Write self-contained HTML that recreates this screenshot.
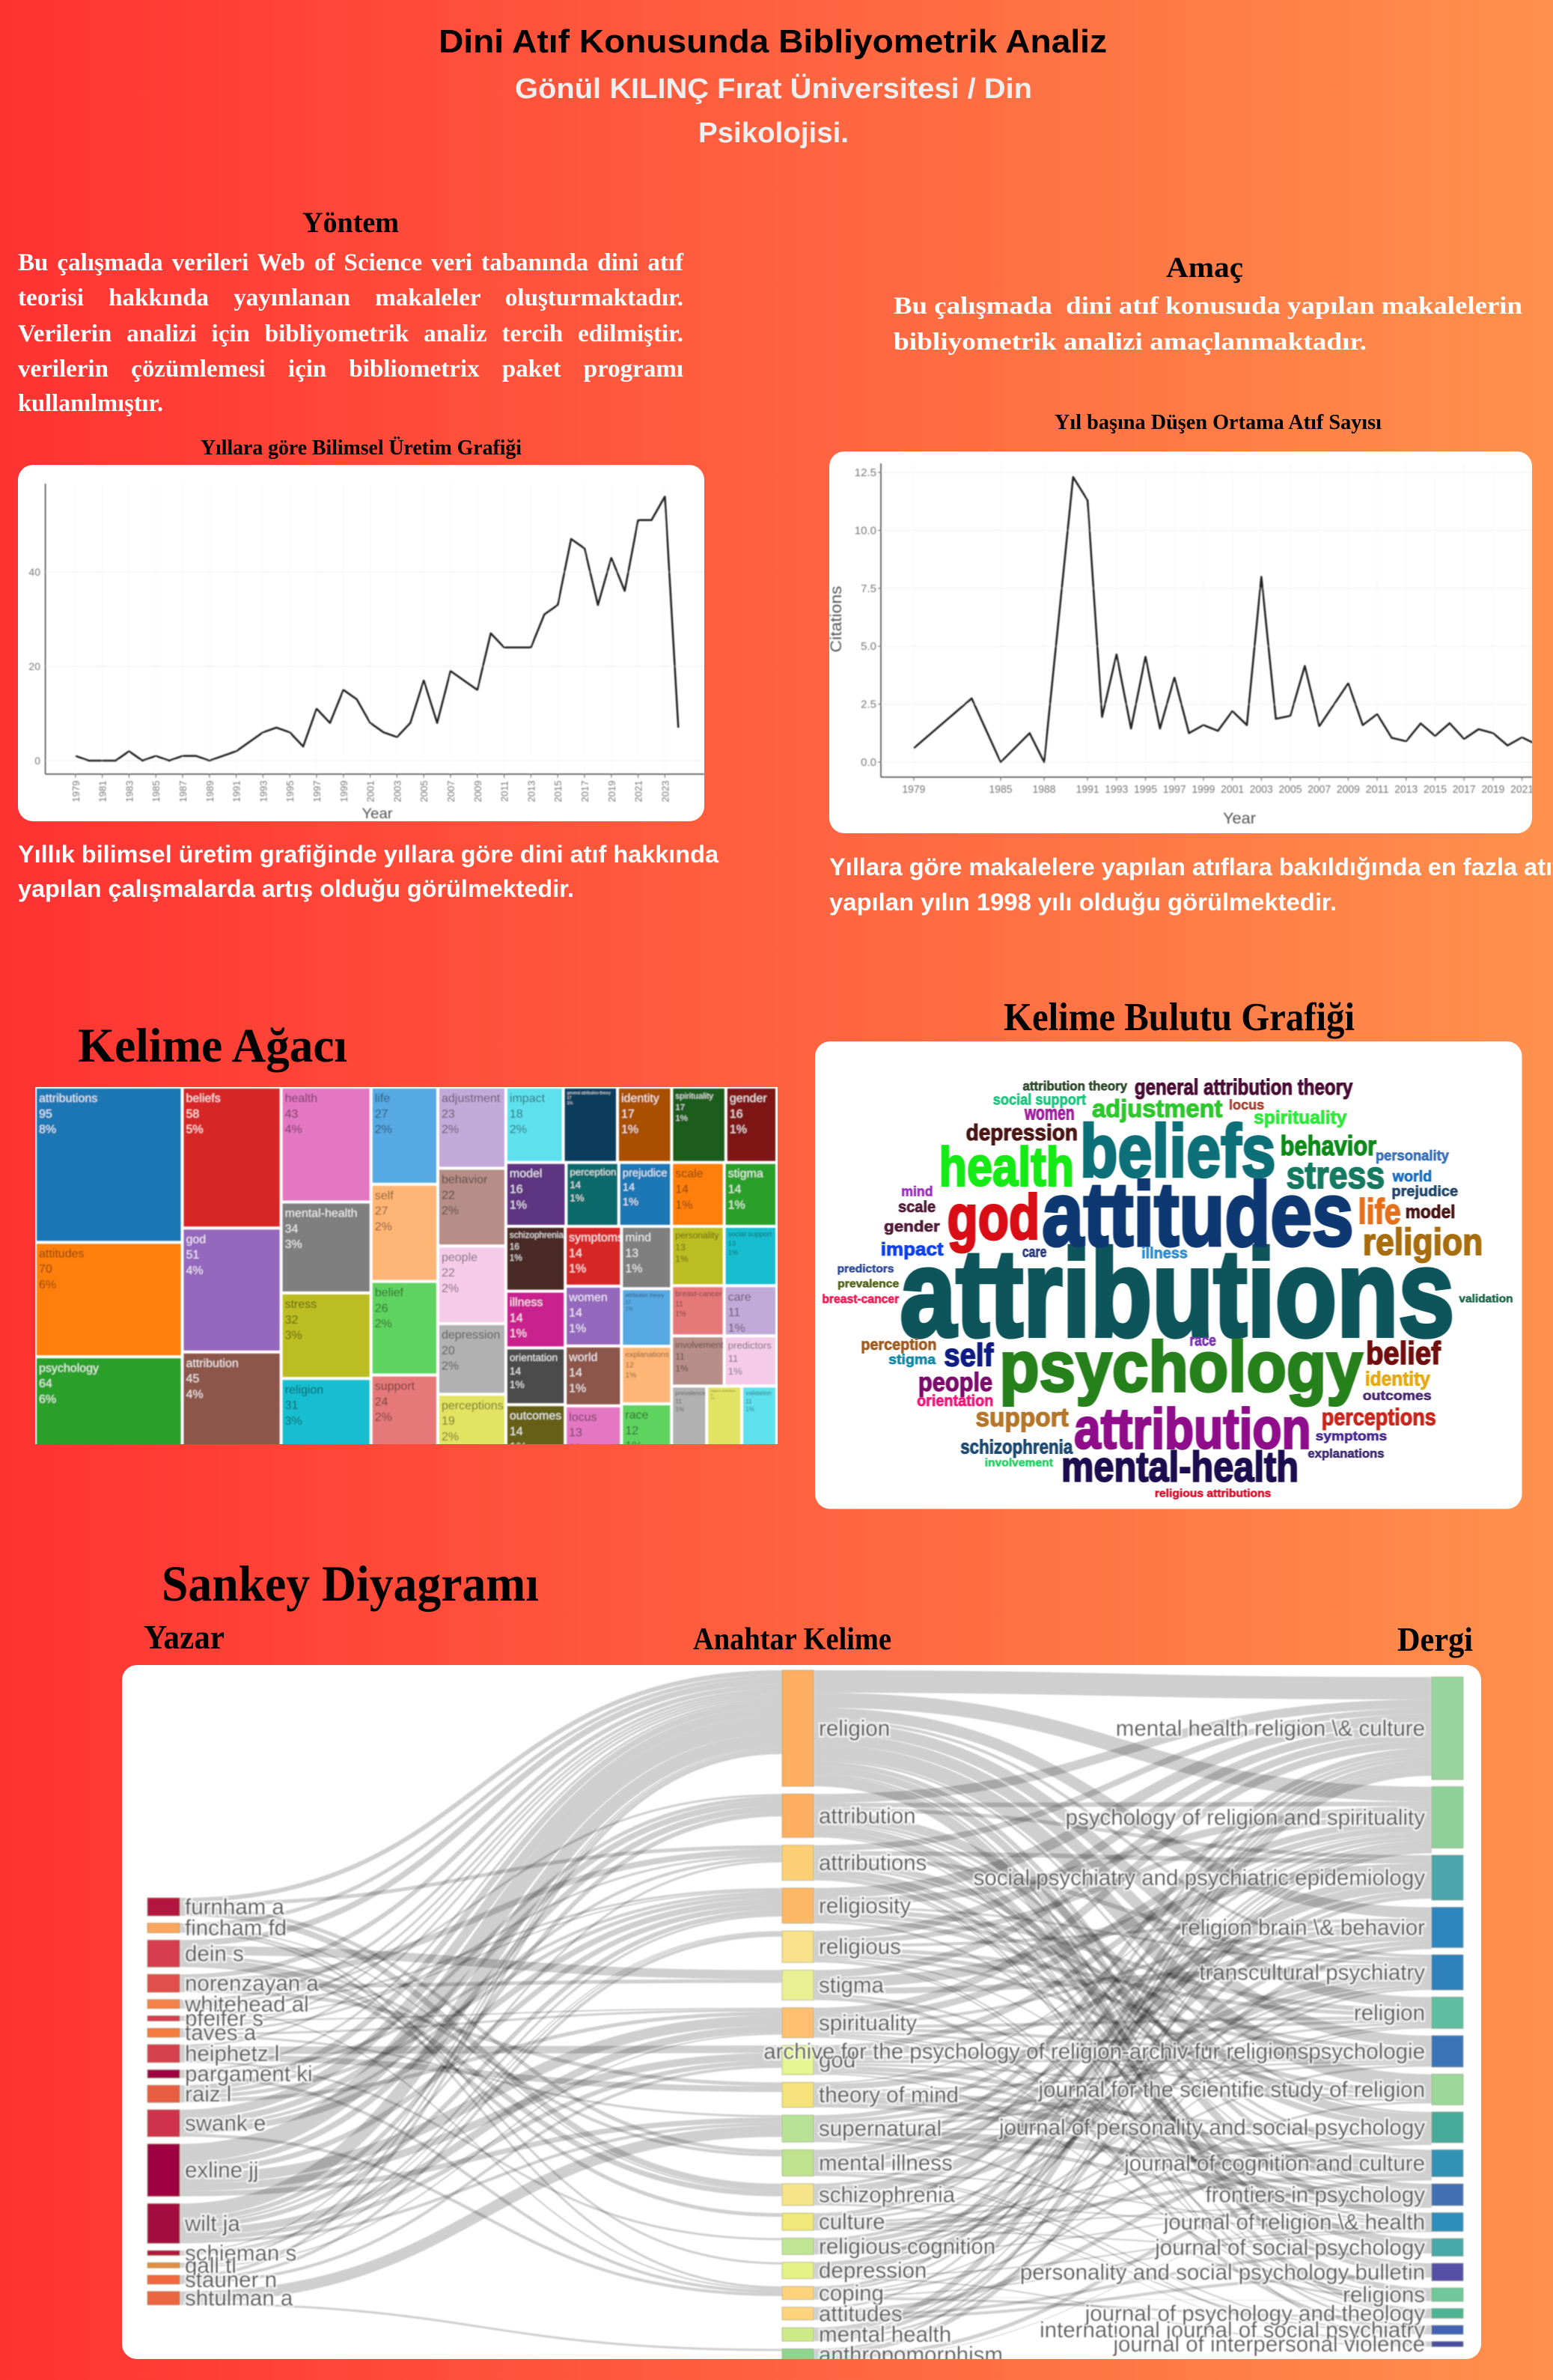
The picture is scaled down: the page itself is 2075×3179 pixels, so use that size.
<!DOCTYPE html>
<html lang="tr">
<head>
<meta charset="utf-8">
<title>Dini Atıf Konusunda Bibliyometrik Analiz</title>
<style>
html,body{margin:0;padding:0;background:#ff623f;}
#page{position:relative;width:2075px;height:3179px;overflow:hidden;background:linear-gradient(90deg,#ff3232,#ff914d);}
#stage{position:absolute;left:0;top:0;display:block;}
.sans{font-family:"Liberation Sans",sans-serif;}
.serif{font-family:"Liberation Serif",serif;}
.b{font-weight:bold;}
.just{position:absolute;left:24px;width:889px;font:bold 33px/47px "Liberation Serif",serif;color:#fff;text-align:justify;text-align-last:justify;white-space:nowrap;}
.w{font-family:"Liberation Sans",sans-serif;font-weight:bold;}
</style>
</head>
<body>
<div id="page">
<svg id="stage" xmlns="http://www.w3.org/2000/svg" width="2075" height="3179" viewBox="0 0 2075 3179">
<defs>
<filter id="soft" x="-2%" y="-2%" width="104%" height="104%"><feGaussianBlur stdDeviation="0.7"/></filter>
<clipPath id="leftClip"><rect x="24" y="621" width="917" height="476" rx="20"/></clipPath>
<clipPath id="rightClip"><rect x="1108" y="603" width="939" height="510" rx="20"/></clipPath>
<clipPath id="treeClip"><rect x="47" y="1452" width="992" height="477"/></clipPath>
<clipPath id="sankeyClip"><rect x="163" y="2224" width="1816" height="927" rx="20"/></clipPath>
</defs>

<text class="sans b" x="586" y="70" font-size="44" textLength="893" fill="#000">Dini Atıf Konusunda Bibliyometrik Analiz</text>
<text class="sans b" x="688" y="131" font-size="38" textLength="691" fill="#f0eeee">Gönül KILINÇ Fırat Üniversitesi / Din</text>
<text class="sans b" x="933" y="190" font-size="38" textLength="201" fill="#f0eeee">Psikolojisi.</text>

<text class="serif b" x="404" y="310" font-size="39" textLength="129" fill="#000">Yöntem</text>
<text class="serif b" x="24" y="549" font-size="33" textLength="194" fill="#fff">kullanılmıştır.</text>

<text class="serif b" x="1558" y="370" font-size="39" textLength="103" fill="#000">Amaç</text>
<text class="serif b" x="1194" y="419" font-size="33" textLength="840" fill="#fff" xml:space="preserve">Bu çalışmada  dini atıf konusuda yapılan makalelerin</text>
<text class="serif b" x="1194" y="467" font-size="33" textLength="632" fill="#fff">bibliyometrik analizi amaçlanmaktadır.</text>

<text class="serif b" x="268" y="607" font-size="28" textLength="429" fill="#000">Yıllara göre Bilimsel Üretim Grafiği</text>
<text class="serif b" x="1409" y="573" font-size="28" textLength="437" fill="#000">Yıl başına Düşen Ortama Atıf Sayısı</text>

<rect x="24" y="621" width="917" height="476" rx="20" fill="#fff"/>
<g id="leftChart" clip-path="url(#leftClip)"></g>
<rect x="1108" y="603" width="939" height="510" rx="20" fill="#fff"/>
<g id="rightChart" clip-path="url(#rightClip)"></g>

<text class="sans b" x="24" y="1152" font-size="32" textLength="936" fill="#fff">Yıllık bilimsel üretim grafiğinde yıllara göre dini atıf hakkında</text>
<text class="sans b" x="24" y="1198" font-size="32" textLength="743" fill="#fff">yapılan çalışmalarda artış olduğu görülmektedir.</text>
<text class="sans b" x="1108" y="1169" font-size="32" textLength="977" fill="#fff">Yıllara göre makalelere yapılan atıflara bakıldığında en fazla atıf</text>
<text class="sans b" x="1108" y="1216" font-size="32" textLength="678" fill="#fff">yapılan yılın 1998 yılı olduğu görülmektedir.</text>

<text class="serif b" x="104" y="1418" font-size="65" textLength="360" fill="#000">Kelime Ağacı</text>
<rect x="47" y="1452" width="992" height="477" fill="#fff"/>
<g id="treemap" clip-path="url(#treeClip)"></g>

<text class="serif b" x="1341" y="1376" font-size="53" textLength="469" fill="#000">Kelime Bulutu Grafiği</text>
<rect x="1089" y="1391" width="944.5" height="624.5" rx="20" fill="#fff"/>
<svg x="1080" y="1320" width="960" height="700" viewBox="0 0 1568 1568" preserveAspectRatio="none" filter="url(#soft)">
<text class="w" x="200" y="1040" font-size="370" textLength="1210" fill="#0a555a">attributions</text>
<text class="w" x="510" y="770" font-size="271" textLength="680" fill="#0b3872">attitudes</text>
<text class="w" x="593" y="563" font-size="223" textLength="427" fill="#0d7078">beliefs</text>
<text class="w" x="417" y="1205" font-size="212" textLength="793" fill="#26801a">psychology</text>
<text class="w" x="580" y="1377" font-size="171" textLength="517" fill="#8f0a8a">attribution</text>
<text class="w" x="552" y="1475" font-size="127" textLength="518" fill="#1c1050">mental-health</text>
<text class="w" x="285" y="590" font-size="164" textLength="295" fill="#12ea12">health</text>
<text class="w" x="303" y="750" font-size="189" textLength="202" fill="#d80a12">god</text>
<text class="w" x="1043" y="598" font-size="115" textLength="215" fill="#147a62">stress</text>
<text class="w" x="1030" y="500" font-size="82" textLength="210" fill="#0f8a1a">behavior</text>
<text class="w" x="1200" y="705" font-size="105" textLength="93" fill="#e5701c">life</text>
<text class="w" x="1210" y="797" font-size="112" textLength="262" fill="#a86d08">religion</text>
<text class="w" x="1217" y="1125" font-size="96" textLength="163" fill="#6f0808">belief</text>
<text class="w" x="296" y="1130" font-size="96" textLength="108" fill="#0b1f80">self</text>
<text class="w" x="240" y="1205" font-size="78" textLength="162" fill="#7a0f6b">people</text>
<text class="w" x="365" y="1310" font-size="78" textLength="203" fill="#b5762a">support</text>
<text class="w" x="1120" y="1307" font-size="70" textLength="250" fill="#c8281e">perceptions</text>
<text class="w" x="619" y="385" font-size="75" textLength="285" fill="#2ec72e">adjustment</text>
<text class="w" x="344" y="455" font-size="68" textLength="244" fill="#4a1212">depression</text>
<text class="w" x="712" y="318" font-size="66" textLength="476" fill="#4a0f35">general attribution theory</text>
<text class="w" x="468" y="306" font-size="40" textLength="228" fill="#2d4a2a">attribution theory</text>
<text class="w" x="403" y="348" font-size="45" textLength="203" fill="#1fc47f">social support</text>
<text class="w" x="918" y="363" font-size="42" textLength="77" fill="#a0483a">locus</text>
<text class="w" x="472" y="393" font-size="58" textLength="109" fill="#a020a0">women</text>
<text class="w" x="972" y="405" font-size="55" textLength="203" fill="#2ee83a">spirituality</text>
<text class="w" x="1238" y="515" font-size="44" textLength="160" fill="#3a6fb5">personality</text>
<text class="w" x="1275" y="578" font-size="45" textLength="86" fill="#1f6fc0">world</text>
<text class="w" x="1273" y="622" font-size="44" textLength="145" fill="#23476b">prejudice</text>
<text class="w" x="203" y="622" font-size="41" textLength="69" fill="#9a2fc0">mind</text>
<text class="w" x="1303" y="688" font-size="55" textLength="109" fill="#4a1212">model</text>
<text class="w" x="196" y="670" font-size="48" textLength="82" fill="#4f1b38">scale</text>
<text class="w" x="165" y="728" font-size="45" textLength="122" fill="#4f1b38">gender</text>
<text class="w" x="158" y="800" font-size="55" textLength="137" fill="#1040e8">impact</text>
<text class="w" x="467" y="804" font-size="45" textLength="53" fill="#2a3a7a">care</text>
<text class="w" x="727" y="808" font-size="45" textLength="101" fill="#2d8ed0">illness</text>
<text class="w" x="63" y="850" font-size="34" textLength="124" fill="#2d4a9a">predictors</text>
<text class="w" x="64" y="895" font-size="34" textLength="134" fill="#4f6018">prevalence</text>
<text class="w" x="30" y="942" font-size="37" textLength="168" fill="#f0144f">breast-cancer</text>
<text class="w" x="1420" y="940" font-size="34" textLength="118" fill="#1e6648">validation</text>
<text class="w" x="115" y="1082" font-size="47" textLength="165" fill="#9c5a22">perception</text>
<text class="w" x="832" y="1070" font-size="47" textLength="58" fill="#7a35b0">race</text>
<text class="w" x="175" y="1125" font-size="41" textLength="103" fill="#1887a0">stigma</text>
<text class="w" x="1215" y="1188" font-size="59" textLength="142" fill="#e5a812">identity</text>
<text class="w" x="1210" y="1232" font-size="40" textLength="150" fill="#4a2a70">outcomes</text>
<text class="w" x="237" y="1250" font-size="48" textLength="167" fill="#f01478">orientation</text>
<text class="w" x="1107" y="1353" font-size="40" textLength="156" fill="#4a2a90">symptoms</text>
<text class="w" x="332" y="1392" font-size="58" textLength="245" fill="#1f4a70">schizophrenia</text>
<text class="w" x="1090" y="1405" font-size="37" textLength="167" fill="#3d2a70">explanations</text>
<text class="w" x="385" y="1430" font-size="34" textLength="149" fill="#20d060">involvement</text>
<text class="w" x="756" y="1522" font-size="34" textLength="254" fill="#d8102a">religious attributions</text>
</svg>

<text class="serif b" x="216" y="2138" font-size="68" textLength="504" fill="#000">Sankey Diyagramı</text>
<text class="serif b" x="192" y="2202" font-size="45" textLength="108" fill="#000">Yazar</text>
<text class="serif b" x="926" y="2203" font-size="42" textLength="265" fill="#000">Anahtar Kelime</text>
<text class="serif b" x="1867" y="2205" font-size="45" textLength="101" fill="#000">Dergi</text>
<rect x="163" y="2224" width="1816" height="927" rx="20" fill="#fff"/>
<g id="sankey" clip-path="url(#sankeyClip)"></g>
</svg>

<div class="just" style="top:328px">Bu çalışmada verileri Web of Science veri tabanında dini atıf</div>
<div class="just" style="top:375px">teorisi hakkında yayınlanan makaleler oluşturmaktadır.</div>
<div class="just" style="top:423px">Verilerin analizi için bibliyometrik analiz tercih edilmiştir.</div>
<div class="just" style="top:470px">verilerin çözümlemesi için bibliometrix paket programı</div>
</div>

<script>
/* ---------- yearly production line chart data ---------- */
const productionYears = [1979,1980,1981,1982,1983,1984,1985,1986,1987,1988,1989,1990,1991,1992,1993,1994,1995,1996,1997,1998,1999,2000,2001,2002,2003,2004,2005,2006,2007,2008,2009,2010,2011,2012,2013,2014,2015,2016,2017,2018,2019,2020,2021,2022,2023,2024];
const productionCounts = [1,0,0,0,2,0,1,0,1,1,0,1,2,4,6,7,6,3,11,8,15,13,8,6,5,8,17,8,19,17,15,27,24,24,24,31,33,47,45,33,43,36,51,51,56,7];
const productionYearTicks = [1979,1981,1983,1985,1987,1989,1991,1993,1995,1997,1999,2001,2003,2005,2007,2009,2011,2013,2015,2017,2019,2021,2023];
const productionValueTicks = [0,20,40];

/* ---------- average citations line chart data ---------- */
const citationYears = [1979,1983,1985,1987,1988,1990,1991,1992,1993,1994,1995,1996,1997,1998,1999,2000,2001,2002,2003,2004,2005,2006,2007,2009,2010,2011,2012,2013,2014,2015,2016,2017,2018,2019,2020,2021,2022];
const citationValues = [0.6,2.75,0,1.25,0,12.3,11.3,1.95,4.65,1.45,4.55,1.45,3.65,1.25,1.6,1.35,2.2,1.6,8,1.87,2,4.15,1.55,3.4,1.6,2.07,1.05,0.9,1.67,1.13,1.68,1,1.42,1.25,0.72,1.07,0.77];
const citationYearTicks = [1979,1985,1988,1991,1993,1995,1997,1999,2001,2003,2005,2007,2009,2011,2013,2015,2017,2019,2021];
const citationValueTicks = [0,2.5,5,7.5,10,12.5];

/* ---------- treemap data ---------- */
const treemapLabels = ["attributions","attitudes","psychology","beliefs","god","attribution","health","mental-health","stress","religion","life","self","belief","support","adjustment","behavior","people","depression","perceptions","impact","general attribution theory","identity","spirituality","gender","model","perception","prejudice","scale","stigma","schizophrenia","illness","orientation","outcomes","symptoms","women","world","locus","mind","attribution theory","explanations","race","personality","social support","breast-cancer","care","involvement","predictors","prevalence","religious attributions","validation"];
const treemapValues = [95,70,64,58,51,45,43,34,32,31,27,27,26,24,23,22,22,20,19,18,17,17,17,16,16,14,14,14,14,16,14,14,14,14,14,14,13,13,12,12,12,13,13,11,11,11,11,11,11,11];
const treemapShares = ["8%","6%","6%","5%","4%","4%","4%","3%","3%","3%","2%","2%","2%","2%","2%","2%","2%","2%","2%","2%","1%","1%","1%","1%","1%","1%","1%","1%","1%","1%","1%","1%","1%","1%","1%","1%","1%","1%","1%","1%","1%","1%","1%","1%","1%","1%","1%","1%","1%","1%"];
const treemapColors = ["#1f77b4","#ff7f0e","#2ca02c","#d62728","#9467bd","#8c564b","#e377c2","#7f7f7f","#bcbd22","#17becf","#57a9e2","#ffb574","#5fd35f","#e57979","#c2aad8","#b68e87","#f5cce8","#b1b1b1","#e2e362","#5fe0ed","#103d5d","#a94f00","#1a5b1a","#7e1416","#5d3480","#0f6a6a","#1f77b4","#ff7f0e","#2ca02c","#4a2a25","#d62728","#7f7f7f","#656113","#d62728","#9467bd","#8c564b","#e377c2","#7f7f7f","#57a9e2","#ffb574","#5fd35f","#bcbd22","#17becf","#e57979","#c2aad8","#b68e87","#f5cce8","#b1b1b1","#e2e362","#5fe0ed"];
treemapColors[30] = "#c9248f";
treemapColors[31] = "#4b4b4b";
const treemapMainColumns = [3,3,4,4,5];
const treemapTopRows = [5,5];
const treemapMiddleColumns = [4,4,4];
const treemapSideRows = [2,2,2,3];

/* ---------- sankey data ---------- */
const authorNames = ["furnham a","fincham fd","dein s","norenzayan a","whitehead al","pfeifer s","taves a","heiphetz l","pargament ki","raiz l","swank e","exline jj","wilt ja","schieman s","gall tl","stauner n","shtulman a"];
const authorValues = [24,13,36,24,12,7,12,24,11,23,36,70,53,6.5,7,12,18];
const authorColors = ["#b2163f","#fca55d","#d53e4f","#e04f4a","#f4814a","#d53e4f","#f57a3e","#d5404f","#9e0142","#e85d42","#cf334c","#9e0142","#a50a41","#b2163f","#e0903f","#f0673f","#ea6540"];
const keywordNames = ["religion","attribution","attributions","religiosity","religious","stigma","spirituality","god","theory of mind","supernatural","mental illness","schizophrenia","culture","religious cognition","depression","coping","attitudes","mental health","anthropomorphism"];
const keywordValues = [155,58,47,47,42,40,40,39,33.5,36,35,29,23,22,22,17.5,17,18,15];
const keywordColors = ["#fdae61","#fdae61","#fdcf75","#fdb866","#f9e08a","#e9f094","#fdbf6f","#e4f591","#f5e27a","#b8e296","#bfe28e","#f5e48a","#f0e878","#c0e594","#e4f285","#fed27a","#fdd37d","#cdea88","#8fd48f"];
const journalNames = ["mental health religion \\& culture","psychology of religion and spirituality","social psychiatry and psychiatric epidemiology","religion brain \\& behavior","transcultural psychiatry","religion","archive for the psychology of religion-archiv fur religionspsychologie","journal for the scientific study of religion","journal of personality and social psychology","journal of cognition and culture","frontiers in psychology","journal of religion \\& health","journal of social psychology","personality and social psychology bulletin","religions","journal of psychology and theology","international journal of social psychiatry","journal of interpersonal violence"];
const journalValues = [137,82,60,54,47,42,42,41,41,36,29,25,23.6,23.4,18,13,12,7];
const journalColors = ["#97d49f","#8fd19a","#4da5ac","#2e86bf","#2f81bb","#5fbda0","#3b74b8","#9cd89b","#47aa9b","#3292b5","#426fb5","#2f8ebb","#48a9a9","#5650a6","#70c79a","#4eb493","#4063b5","#49509f"];
const authorKeywordLinks = [[0,0,6],[0,2,5],[0,10,5],[0,11,8],[1,0,5],[1,11,2],[1,14,3],[1,15,3],[2,0,8],[2,5,12],[2,10,4],[2,11,7],[2,12,5],[3,0,6],[3,2,8],[3,5,5],[3,8,5],[4,0,4],[4,1,3],[4,3,3],[4,15,2],[5,0,3],[5,3,2],[5,6,2],[6,0,3],[6,2,3],[6,6,3],[6,9,3],[7,0,3],[7,7,10],[7,8,8],[7,13,3],[8,0,3],[8,3,4],[8,15,4],[9,0,8],[9,1,5],[9,3,5],[9,6,5],[10,0,12],[10,1,8],[10,2,4],[10,3,8],[10,15,4],[11,0,24],[11,1,8],[11,3,7],[11,6,14],[11,7,10],[11,9,7],[12,0,18],[12,1,6],[12,2,3],[12,3,6],[12,6,10],[12,7,6],[12,9,4],[13,0,2],[13,3,3],[13,4,1.5],[14,0,3],[14,4,2],[14,6,2],[15,0,4],[15,4,4],[15,7,4],[16,9,15],[16,18,3]];
const keywordJournalLinks = [[0,0,30],[0,1,20],[0,3,15],[0,4,4],[0,5,15],[0,6,15],[0,7,20],[0,8,3],[0,10,6],[0,11,10],[0,13,3],[0,14,8],[0,15,6],[1,0,12],[1,1,6],[1,2,5],[1,8,12],[1,9,4],[1,10,2],[1,12,8],[1,13,7],[1,15,2],[2,0,8],[2,2,6],[2,4,6],[2,8,8],[2,9,3],[2,12,6],[2,13,5],[2,16,3],[2,17,2],[3,0,14],[3,1,10],[3,4,3],[3,5,6],[3,6,5],[3,7,6],[3,11,3],[4,0,11],[4,1,7],[4,3,4],[4,5,5],[4,6,5],[4,7,4],[4,10,2],[4,14,2],[4,15,2],[5,0,10],[5,2,14],[5,4,8],[5,11,3],[5,16,5],[6,0,10],[6,1,9],[6,3,4],[6,5,4],[6,6,4],[6,7,3],[6,10,2],[6,11,2],[6,14,2],[7,1,8],[7,3,8],[7,5,4],[7,6,4],[7,7,3],[7,9,6],[7,10,4],[7,14,2],[8,1,2],[8,3,8],[8,6,2.5],[8,8,6],[8,9,9],[8,10,6],[9,1,6],[9,3,5],[9,5,3],[9,6,3],[9,8,2],[9,9,9],[9,10,5],[9,14,3],[10,0,7],[10,1,4],[10,2,10],[10,4,8],[10,11,2],[10,16,2],[10,17,2],[11,0,4],[11,2,12],[11,4,8],[11,11,2],[11,16,2],[11,17,1],[12,0,5],[12,1,3],[12,4,3],[12,8,3],[12,9,5],[12,10,2],[12,12,2],[13,1,4],[13,3,6],[13,5,3],[13,6,3],[13,8,4],[13,10,2],[14,0,6],[14,1,2],[14,2,6],[14,4,4],[14,11,2],[14,17,2],[15,0,4],[15,1,3],[15,5,2],[15,7,3],[15,11,2],[15,14,0.5],[15,15,3],[16,0,3],[16,8,6],[16,12,4],[16,13,4],[17,0,8],[17,1,2],[17,2,5],[17,4,3],[18,1,3],[18,3,6],[18,9,5],[18,10,1]];

/* ---------- helpers ---------- */
const NS = "http://www.w3.org/2000/svg";
function make(tag, attrs, parent) {
  const el = document.createElementNS(NS, tag);
  for (const k in attrs) el.setAttribute(k, attrs[k]);
  parent.appendChild(el);
  return el;
}
function pathFrom(xs, ys) {
  return xs.map((x, i) => (i ? "L" : "M") + x.toFixed(1) + " " + ys[i].toFixed(1)).join(" ");
}
const AXIS_FONT = '"Liberation Sans",sans-serif';

/* ---------- left line chart ---------- */
(function () {
  const root = document.getElementById("leftChart");
  const g = make("g", {filter: "url(#soft)"}, root);
  const xScale = y => 100.8 + (y - 1979) * 17.9;
  const yScale = v => 1016 - v * 6.3;
  productionYearTicks.forEach(year => {
    const x = xScale(year);
    const grid = make("line", {x1: x, x2: x, y1: 646, y2: 1034, stroke: "#fafafa", "stroke-width": 1.5}, g);
    
    
    const tick = make("line", {x1: x, x2: x, y1: 1034, y2: 1039, stroke: "#666", "stroke-width": 1}, g);
    
    
    const label = make("text", {transform: "translate(" + (x + 5) + " 1057) rotate(-90)", "text-anchor": "middle", "font-size": 13, "font-family": AXIS_FONT, fill: "#777"}, g);
    label.textContent = year;
    
    
  });
  productionValueTicks.forEach(v => {
    const y = yScale(v);
    const grid = make("line", {x1: 60.6, x2: 941, y1: y, y2: y, stroke: "#f6f6f6", "stroke-width": 2}, g);
    
    
    const label = make("text", {x: 54, y: y + 5, "text-anchor": "end", "font-size": 14, "font-family": AXIS_FONT, fill: "#777"}, g);
    label.textContent = v;
    
    
  });
  const yAxis = make("line", {x1: 60.6, x2: 60.6, y1: 646, y2: 1034, stroke: "#444", "stroke-width": 1.5}, g);
  
  
  const xAxis = make("line", {x1: 60.6, x2: 941, y1: 1034, y2: 1034, stroke: "#444", "stroke-width": 1.5}, g);
  
  
  const line = make("path", {d: pathFrom(productionYears.map(xScale), productionCounts.map(yScale)), fill: "none", stroke: "#222", "stroke-width": 2.6, "stroke-linejoin": "round"}, g);
  
  
  const title = make("text", {x: 504, y: 1093, "text-anchor": "middle", "font-size": 19, textLength: 41, "font-family": AXIS_FONT, fill: "#555"}, g);
  title.textContent = "Year";
  
  
})();

/* ---------- right line chart ---------- */
(function () {
  const root = document.getElementById("rightChart");
  const g = make("g", {filter: "url(#soft)"}, root);
  const xScale = y => 1220.9 + (y - 1979) * 19.35;
  const yScale = v => 1018 - v * 30.96;
  citationYearTicks.forEach(year => {
    const x = xScale(year);
    const grid = make("line", {x1: x, x2: x, y1: 619, y2: 1038, stroke: "#fafafa", "stroke-width": 1.5}, g);
    
    
    const tick = make("line", {x1: x, x2: x, y1: 1038, y2: 1043, stroke: "#666", "stroke-width": 1}, g);
    
    
    const label = make("text", {x: x, y: 1059, "text-anchor": "middle", "font-size": 15, textLength: 31, "font-family": AXIS_FONT, fill: "#777"}, g);
    label.textContent = year;
    
    
  });
  citationValueTicks.forEach(v => {
    const y = yScale(v);
    const grid = make("line", {x1: 1177, x2: 2047, y1: y, y2: y, stroke: "#f6f6f6", "stroke-width": 2}, g);
    
    
    const tick = make("line", {x1: 1173, x2: 1177, y1: y, y2: y, stroke: "#666", "stroke-width": 1}, g);
    
    
    const label = make("text", {x: 1171, y: y + 5, "text-anchor": "end", "font-size": 15, "font-family": AXIS_FONT, fill: "#777"}, g);
    label.textContent = v.toFixed(1);
    
    
  });
  const yAxis = make("line", {x1: 1177, x2: 1177, y1: 619, y2: 1038, stroke: "#444", "stroke-width": 1.5}, g);
  
  
  const xAxis = make("line", {x1: 1177, x2: 2047, y1: 1038, y2: 1038, stroke: "#444", "stroke-width": 1.5}, g);
  
  
  const line = make("path", {d: pathFrom(citationYears.map(xScale), citationValues.map(yScale)), fill: "none", stroke: "#222", "stroke-width": 2.6, "stroke-linejoin": "round"}, g);
  
  
  const xTitle = make("text", {x: 1656, y: 1100, "text-anchor": "middle", "font-size": 21, textLength: 44, "font-family": AXIS_FONT, fill: "#555"}, g);
  xTitle.textContent = "Year";
  
  
  const yTitle = make("text", {transform: "translate(1124 827) rotate(-90)", "text-anchor": "middle", "font-size": 21, textLength: 89, "font-family": AXIS_FONT, fill: "#555"}, g);
  yTitle.textContent = "Citations";
  
  
})();

/* ---------- treemap ---------- */
(function () {
  const root = document.getElementById("treemap");
  const g = make("g", {filter: "url(#soft)"}, root);
  const X0 = 47, Y0 = 1452, W = 991, H = 500;
  const total = treemapValues.reduce((a, b) => a + b, 0);
  const areaPerUnit = W * H / total;
  let cursor = 0;
  function take(n) {
    const idx = [];
    for (let i = 0; i < n; i++) idx.push(cursor + i);
    cursor += n;
    return idx;
  }
  const sumOf = idx => idx.reduce((a, i) => a + treemapValues[i], 0);
  function luminance(hex) {
    const n = parseInt(hex.slice(1), 16);
    return 0.299 * (n >> 16) + 0.587 * ((n >> 8) & 255) + 0.114 * (n & 255);
  }
  function cell(i, x, y, w, h) {
    const color = treemapColors[i];
    const rect = make("rect", {x: X0 + x + 2, y: Y0 + y + 2, width: Math.max(w - 4, 1), height: Math.max(h - 4, 1), fill: color}, g);
    
    
    const name = treemapLabels[i];
    const size = Math.min(16, (w - 8) / (name.length * 0.47));
    const light = luminance(color) > 140;
    const lines = [name, treemapValues[i], treemapShares[i]];
    lines.forEach((txt, k) => {
      const t = make("text", {x: X0 + x + 5, y: Y0 + y + 4 + size * (1 + k * 1.3), "font-size": size, "font-family": AXIS_FONT, fill: light ? "#000" : "#fff", "fill-opacity": light ? 0.5 : 0.88}, g);
      t.textContent = txt;
      
      
    });
  }
  let x = 0;
  treemapMainColumns.forEach(n => {
    const idx = take(n), s = sumOf(idx), colW = s * areaPerUnit / H;
    let y = 0;
    idx.forEach(i => {
      const h = treemapValues[i] / s * H;
      cell(i, x, y, colW, h);
      y += h;
    });
    x += colW;
  });
  const restW = W - x;
  let y = 0;
  treemapTopRows.forEach(n => {
    const idx = take(n), s = sumOf(idx), rowH = s * areaPerUnit / restW;
    let cx = x;
    idx.forEach(i => {
      const w = treemapValues[i] / s * restW;
      cell(i, cx, y, w, rowH);
      cx += w;
    });
    y += rowH;
  });
  const restH = H - y;
  let cx = x;
  treemapMiddleColumns.forEach(n => {
    const idx = take(n), s = sumOf(idx), colW = s * areaPerUnit / restH;
    let cy = y;
    idx.forEach(i => {
      const h = treemapValues[i] / s * restH;
      cell(i, cx, cy, colW, h);
      cy += h;
    });
    cx += colW;
  });
  const sideW = W - cx;
  let sy = y;
  treemapSideRows.forEach(n => {
    const idx = take(n), s = sumOf(idx), rowH = s * areaPerUnit / sideW;
    let rx = cx;
    idx.forEach(i => {
      const w = treemapValues[i] / s * sideW;
      cell(i, rx, sy, w, rowH);
      rx += w;
    });
    sy += rowH;
  });
})();

/* ---------- sankey ---------- */
(function () {
  const root = document.getElementById("sankey");
  const g = make("g", {filter: "url(#soft)"}, root);
  function stack(values, start, pad) {
    let y = start;
    return values.map(v => {
      const node = {y: y, h: v, inOffset: 0, outOffset: 0};
      y += v + pad;
      return node;
    });
  }
  const authorNodes = stack(authorValues, 2535, 9.7);
  const keywordNodes = stack(keywordValues, 2231, 10.3);
  const journalNodes = stack(journalValues, 2240, 9.5);
  function drawLinks(list, srcNodes, dstNodes, x0, x1, kind) {
    const ordered = list.slice().sort((a, b) => a[0] - b[0] || a[1] - b[1]);
    const inOrdered = list.slice().sort((a, b) => a[1] - b[1] || a[0] - b[0]);
    const targetY = new Map();
    inOrdered.forEach(l => {
      const n = dstNodes[l[1]];
      targetY.set(l, n.y + n.inOffset + l[2] / 2);
      n.inOffset += l[2];
    });
    ordered.forEach(l => {
      const s = srcNodes[l[0]];
      const y0 = s.y + s.outOffset + l[2] / 2;
      s.outOffset += l[2];
      const y1 = targetY.get(l);
      const xm = (x0 + x1) / 2;
      const p = make("path", {d: "M" + x0 + " " + y0 + " C" + xm + " " + y0 + " " + xm + " " + y1 + " " + x1 + " " + y1, fill: "none", stroke: "#000", "stroke-opacity": 0.19, "stroke-width": l[2]}, g);
      
      
    });
  }
  drawLinks(authorKeywordLinks, authorNodes, keywordNodes, 240, 1045, "author-keyword-link");
  drawLinks(keywordJournalLinks, keywordNodes, journalNodes, 1087, 1913, "keyword-journal-link");
  function drawNodes(nodes, colors, x, w, kind) {
    nodes.forEach((n, i) => {
      const r = make("rect", {x: x, y: n.y, width: w, height: n.h, fill: colors[i], stroke: "#8a8a6a", "stroke-opacity": 0.55, "stroke-width": 1}, g);
      
      
    });
  }
  drawNodes(authorNodes, authorColors, 197, 43, "author-node");
  drawNodes(keywordNodes, keywordColors, 1045, 42, "keyword-node");
  drawNodes(journalNodes, journalColors, 1913, 42, "journal-node");
  function drawLabels(nodes, names, x, anchor, kind) {
    nodes.forEach((n, i) => {
      const t = make("text", {x: x, y: n.y + n.h / 2 + 10, "text-anchor": anchor, "font-size": 29.5, "font-family": AXIS_FONT, fill: "#5a5a5a", stroke: "#fff", "stroke-opacity": 0.7, "stroke-width": 3, "paint-order": "stroke"}, g);
      t.textContent = names[i];
      
      
    });
  }
  drawLabels(authorNodes, authorNames, 247, "start", "author-label");
  drawLabels(keywordNodes, keywordNames, 1094, "start", "keyword-label");
  drawLabels(journalNodes, journalNames, 1904, "end", "journal-label");
})();

/* ---------- text fitting ---------- */
document.querySelectorAll("text[textLength]").forEach(t => {
  t.setAttribute("lengthAdjust", "spacingAndGlyphs");
});
document.querySelectorAll("text.w").forEach(t => {
  t.setAttribute("stroke", t.getAttribute("fill"));
  t.setAttribute("stroke-width", parseFloat(t.getAttribute("font-size")) * 0.035);
});
</script>
</body>
</html>
